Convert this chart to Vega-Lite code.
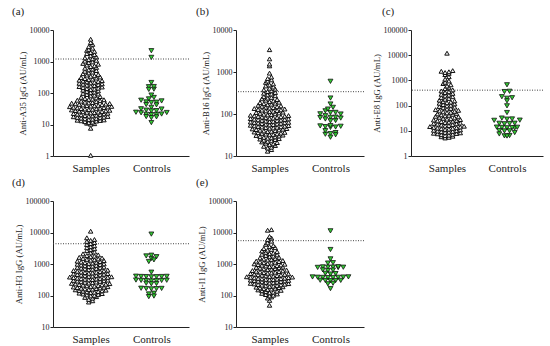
{
"$schema": "https://vega.github.io/schema/vega-lite/v6.json",
"background": "#ffffff",
"padding": {"left": 12, "top": 6, "right": 2, "bottom": 2},
"columns": 3,
"spacing": {"row": 45, "column": 47},
"bounds": "flush",
"config": {
  "view": {"stroke": null},
  "font": "Liberation Serif",
  "axis": {"domainColor": "#222", "tickColor": "#222", "labelColor": "#222", "titleColor": "#222", "grid": false, "labelFont": "Liberation Serif", "titleFont": "Liberation Serif", "titleFontWeight": "normal", "labelFontWeight": "normal", "domainWidth": 1, "tickWidth": 1},
  "axisY": {"labelFontSize": 8, "titleFontSize": 8.7, "tickSize": 3, "labelPadding": 1, "titlePadding": 2, "labelFont": "Liberation Serif"},
  "axisX": {"labelFontSize": 11, "ticks": false, "labelPadding": 6, "labelAngle": 0, "labelFont": "Liberation Serif"},
  "title": {"fontSize": 11, "fontWeight": "normal", "anchor": "start", "frame": "group", "font": "Liberation Serif", "color": "#222", "offset": 9}
},
"datasets": {
"aS": [{"v":1.05},{"v":7.6},{"v":10.2},{"v":10.6},{"v":11.0},{"v":11.4},{"v":11.9},{"v":12.3},{"v":12.8},{"v":13.1},{"v":13.4},{"v":13.7},{"v":14.0},{"v":14.4},{"v":14.8},{"v":15.2},{"v":15.6},{"v":16.0},{"v":16.4},{"v":16.8},{"v":17.2},{"v":17.6},{"v":18.0},{"v":18.4},{"v":18.8},{"v":19.2},{"v":19.7},{"v":20.3},{"v":20.8},{"v":21.3},{"v":21.8},{"v":22.3},{"v":22.8},{"v":23.3},{"v":23.8},{"v":24.3},{"v":24.8},{"v":25.3},{"v":25.9},{"v":26.5},{"v":27.1},{"v":27.7},{"v":28.3},{"v":29.0},{"v":29.7},{"v":30.4},{"v":31.0},{"v":31.6},{"v":32},{"v":32.8},{"v":33.6},{"v":34.4},{"v":35.2},{"v":36},{"v":36.8},{"v":37.6},{"v":38.4},{"v":39.2},{"v":39.8},{"v":40.5},{"v":41.5},{"v":42.5},{"v":43.5},{"v":44.5},{"v":45.5},{"v":46.5},{"v":47.5},{"v":48.5},{"v":49.5},{"v":51},{"v":53},{"v":55},{"v":57},{"v":59},{"v":61},{"v":62.5},{"v":64},{"v":67},{"v":70},{"v":73},{"v":77},{"v":81},{"v":85},{"v":89},{"v":93},{"v":97},{"v":102},{"v":107},{"v":112},{"v":117},{"v":123},{"v":128},{"v":133},{"v":138},{"v":143},{"v":149},{"v":155},{"v":160},{"v":166},{"v":172},{"v":178},{"v":184},{"v":190},{"v":196},{"v":203},{"v":210},{"v":218},{"v":226},{"v":233},{"v":240},{"v":247},{"v":255},{"v":265},{"v":276},{"v":287},{"v":298},{"v":310},{"v":322},{"v":338},{"v":354},{"v":370},{"v":388},{"v":410},{"v":435},{"v":460},{"v":488},{"v":515},{"v":545},{"v":575},{"v":610},{"v":650},{"v":690},{"v":730},{"v":770},{"v":820},{"v":870},{"v":920},{"v":970},{"v":1030},{"v":1090},{"v":1150},{"v":1220},{"v":1300},{"v":1400},{"v":1520},{"v":1650},{"v":1780},{"v":1920},{"v":2100},{"v":2250},{"v":2420},{"v":2650},{"v":2950},{"v":3500},{"v":4000},{"v":5100}],
"aC": [{"v":2200},{"v":1350},{"v":215},{"v":158},{"v":133},{"v":130},{"v":160},{"v":72},{"v":86},{"v":65},{"v":50},{"v":51},{"v":56},{"v":52},{"v":42},{"v":59},{"v":43},{"v":35},{"v":31},{"v":28.6},{"v":31.5},{"v":24},{"v":27},{"v":21},{"v":24.5},{"v":21.5},{"v":23.5},{"v":20.5},{"v":21},{"v":27.5},{"v":17.5},{"v":17.8},{"v":16.5},{"v":11.5}],
"bS": [{"v":13},{"v":14.2},{"v":15.5},{"v":16.2},{"v":17},{"v":17.8},{"v":18.6},{"v":19.5},{"v":20.2},{"v":20.9},{"v":21.6},{"v":22.3},{"v":23.0},{"v":23.8},{"v":24.6},{"v":25.3},{"v":25.9},{"v":26.5},{"v":27.1},{"v":27.8},{"v":28.5},{"v":29.2},{"v":30},{"v":30.8},{"v":31.5},{"v":32},{"v":32.6},{"v":33.2},{"v":33.8},{"v":34.5},{"v":35.2},{"v":35.9},{"v":36.6},{"v":37.3},{"v":38},{"v":38.7},{"v":39.5},{"v":40.2},{"v":41},{"v":41.8},{"v":42.6},{"v":43.4},{"v":44.2},{"v":45},{"v":45.8},{"v":46.6},{"v":47.4},{"v":48.2},{"v":49},{"v":49.7},{"v":50.4},{"v":51.3},{"v":52.2},{"v":53.1},{"v":54},{"v":55},{"v":56},{"v":57},{"v":58},{"v":59},{"v":60},{"v":61},{"v":62},{"v":62.8},{"v":63.5},{"v":64.6},{"v":65.7},{"v":66.8},{"v":68},{"v":69.2},{"v":70.4},{"v":71.6},{"v":72.8},{"v":74},{"v":75.2},{"v":76.4},{"v":77.6},{"v":78.7},{"v":80},{"v":81.5},{"v":83},{"v":84.5},{"v":86},{"v":87.5},{"v":89},{"v":90.5},{"v":92},{"v":93.5},{"v":95},{"v":96.5},{"v":98.5},{"v":101},{"v":103.5},{"v":106},{"v":108.5},{"v":111},{"v":113.5},{"v":116},{"v":118.5},{"v":121},{"v":123.5},{"v":125.5},{"v":128},{"v":131.5},{"v":135},{"v":138.5},{"v":142},{"v":145.5},{"v":149},{"v":152.5},{"v":156},{"v":161},{"v":166},{"v":171},{"v":176},{"v":181},{"v":186},{"v":191},{"v":197},{"v":205},{"v":213},{"v":221},{"v":230},{"v":239},{"v":248},{"v":258},{"v":272},{"v":286},{"v":300},{"v":312},{"v":325},{"v":342},{"v":358},{"v":375},{"v":392},{"v":410},{"v":440},{"v":465},{"v":492},{"v":520},{"v":565},{"v":610},{"v":650},{"v":700},{"v":760},{"v":940},{"v":1400},{"v":1550},{"v":2050},{"v":3400}],
"bC": [{"v":600},{"v":240},{"v":144},{"v":173},{"v":109},{"v":119},{"v":91},{"v":100},{"v":131},{"v":101},{"v":108},{"v":83},{"v":69},{"v":70},{"v":80},{"v":84},{"v":76},{"v":82},{"v":49},{"v":50},{"v":52},{"v":48},{"v":53},{"v":51},{"v":33},{"v":36},{"v":34},{"v":32},{"v":28},{"v":40}],
"cS": [{"v":5.2},{"v":5.5},{"v":5.8},{"v":6.1},{"v":6.4},{"v":6.7},{"v":7.0},{"v":7.3},{"v":7.6},{"v":7.8},{"v":8.0},{"v":8.3},{"v":8.6},{"v":8.9},{"v":9.2},{"v":9.5},{"v":9.8},{"v":10.1},{"v":10.5},{"v":10.9},{"v":11.3},{"v":11.7},{"v":12.1},{"v":12.5},{"v":12.8},{"v":13.2},{"v":13.7},{"v":14.2},{"v":14.7},{"v":15.2},{"v":15.6},{"v":16.2},{"v":16.9},{"v":17.6},{"v":18.3},{"v":19},{"v":19.7},{"v":20.4},{"v":21.3},{"v":22.2},{"v":23.1},{"v":24},{"v":24.8},{"v":25.7},{"v":26.8},{"v":27.9},{"v":29},{"v":30.1},{"v":31.2},{"v":32.5},{"v":34.2},{"v":35.9},{"v":37.6},{"v":39.3},{"v":41},{"v":43},{"v":45},{"v":47},{"v":49},{"v":51.5},{"v":54},{"v":56.5},{"v":59},{"v":61.5},{"v":65},{"v":69},{"v":73},{"v":77},{"v":82},{"v":87},{"v":92},{"v":97},{"v":103},{"v":110},{"v":117},{"v":124},{"v":130},{"v":138},{"v":146},{"v":154},{"v":165},{"v":178},{"v":192},{"v":210},{"v":225},{"v":242},{"v":262},{"v":282},{"v":305},{"v":330},{"v":355},{"v":382},{"v":420},{"v":470},{"v":530},{"v":600},{"v":670},{"v":750},{"v":840},{"v":950},{"v":1120},{"v":1400},{"v":1700},{"v":1900},{"v":2050},{"v":2200},{"v":2300},{"v":2450},{"v":12000}],
"cC": [{"v":670},{"v":360},{"v":370},{"v":195},{"v":205},{"v":225},{"v":155},{"v":98},{"v":53},{"v":29},{"v":29.5},{"v":26},{"v":26.5},{"v":32},{"v":19},{"v":19.5},{"v":20},{"v":19.8},{"v":13},{"v":13.2},{"v":13.4},{"v":13.6},{"v":13.8},{"v":14},{"v":10},{"v":10.2},{"v":9.9},{"v":6.3},{"v":6.5},{"v":8.5},{"v":6.2},{"v":7.5}],
"dS": [{"v":62},{"v":68},{"v":75},{"v":82},{"v":87},{"v":92},{"v":97},{"v":101},{"v":104.5},{"v":108},{"v":111.5},{"v":115},{"v":119},{"v":123},{"v":127},{"v":130.5},{"v":134},{"v":137.5},{"v":141},{"v":144.5},{"v":148},{"v":151.5},{"v":155},{"v":159},{"v":162.5},{"v":166},{"v":170},{"v":174},{"v":178},{"v":182},{"v":186},{"v":190},{"v":194},{"v":198},{"v":203},{"v":208},{"v":213},{"v":218},{"v":223},{"v":228},{"v":233},{"v":238},{"v":243},{"v":248},{"v":255},{"v":261},{"v":267},{"v":273},{"v":280},{"v":287},{"v":294},{"v":301},{"v":308},{"v":314},{"v":320},{"v":327},{"v":334},{"v":341},{"v":348},{"v":355},{"v":362},{"v":369},{"v":377},{"v":385},{"v":393},{"v":403},{"v":413},{"v":423},{"v":433},{"v":443},{"v":453},{"v":463},{"v":473},{"v":485},{"v":497},{"v":507},{"v":520},{"v":533},{"v":546},{"v":559},{"v":572},{"v":586},{"v":603},{"v":620},{"v":640},{"v":660},{"v":680},{"v":700},{"v":720},{"v":740},{"v":760},{"v":782},{"v":805},{"v":830},{"v":855},{"v":880},{"v":905},{"v":930},{"v":955},{"v":985},{"v":1010},{"v":1040},{"v":1070},{"v":1100},{"v":1130},{"v":1160},{"v":1195},{"v":1235},{"v":1280},{"v":1320},{"v":1360},{"v":1400},{"v":1450},{"v":1500},{"v":1550},{"v":1620},{"v":1700},{"v":1780},{"v":1860},{"v":1950},{"v":2100},{"v":2250},{"v":2400},{"v":2650},{"v":2850},{"v":3050},{"v":3300},{"v":3550},{"v":3800},{"v":4150},{"v":4450},{"v":4800},{"v":5200},{"v":5600},{"v":6000},{"v":6800},{"v":11000}],
"dC": [{"v":8900},{"v":1900},{"v":1800},{"v":1700},{"v":1500},{"v":1350},{"v":1200},{"v":550},{"v":390},{"v":395},{"v":400},{"v":405},{"v":410},{"v":398},{"v":402},{"v":290},{"v":295},{"v":298},{"v":300},{"v":302},{"v":305},{"v":310},{"v":235},{"v":240},{"v":245},{"v":162},{"v":165},{"v":168},{"v":170},{"v":166},{"v":118},{"v":112},{"v":96},{"v":92}],
"eS": [{"v":49},{"v":70},{"v":83},{"v":90},{"v":97},{"v":102},{"v":107},{"v":112},{"v":117},{"v":122},{"v":128},{"v":132.5},{"v":137},{"v":141.5},{"v":146},{"v":150.5},{"v":155},{"v":160},{"v":164.5},{"v":169},{"v":174},{"v":179},{"v":184},{"v":189},{"v":194},{"v":198},{"v":203},{"v":208},{"v":213},{"v":218},{"v":223},{"v":228},{"v":233},{"v":238},{"v":243},{"v":248},{"v":254},{"v":260},{"v":266},{"v":272},{"v":278},{"v":284},{"v":290},{"v":296},{"v":302},{"v":308},{"v":313},{"v":319},{"v":325},{"v":331},{"v":337},{"v":343},{"v":349},{"v":356},{"v":363},{"v":370},{"v":377},{"v":385},{"v":393},{"v":402},{"v":411},{"v":420},{"v":429},{"v":438},{"v":447},{"v":457},{"v":467},{"v":477},{"v":487},{"v":497},{"v":507},{"v":520},{"v":533},{"v":546},{"v":559},{"v":572},{"v":586},{"v":603},{"v":620},{"v":640},{"v":660},{"v":680},{"v":700},{"v":720},{"v":740},{"v":760},{"v":782},{"v":800},{"v":822},{"v":844},{"v":866},{"v":888},{"v":910},{"v":935},{"v":960},{"v":985},{"v":1010},{"v":1040},{"v":1070},{"v":1100},{"v":1130},{"v":1160},{"v":1195},{"v":1235},{"v":1290},{"v":1340},{"v":1390},{"v":1440},{"v":1500},{"v":1560},{"v":1620},{"v":1700},{"v":1780},{"v":1860},{"v":1950},{"v":2030},{"v":2130},{"v":2230},{"v":2340},{"v":2460},{"v":2600},{"v":2750},{"v":2900},{"v":3080},{"v":3300},{"v":3550},{"v":3850},{"v":4200},{"v":4700},{"v":5300},{"v":6000},{"v":6700},{"v":7500},{"v":11800},{"v":12300}],
"eC": [{"v":11300},{"v":2880},{"v":1450},{"v":1070},{"v":1100},{"v":770},{"v":780},{"v":790},{"v":800},{"v":810},{"v":820},{"v":795},{"v":620},{"v":640},{"v":650},{"v":480},{"v":495},{"v":505},{"v":370},{"v":372},{"v":375},{"v":378},{"v":380},{"v":385},{"v":388},{"v":390},{"v":295},{"v":298},{"v":300},{"v":302},{"v":305},{"v":235},{"v":245},{"v":166}]
},
"concat": [
{
 "width": 136, "height": 126,
 "title": {"text": "(a)", "dx": -41},
 "encoding": {"y": {"field": "v", "type": "quantitative", "scale": {"type": "log", "domain": [1, 10000], "nice": false}, "axis": {"values": [1, 10, 100, 1000, 10000], "format": "d", "title": "Anti-A35 IgG (AU/mL)"}}},
 "layer": [
  {"data": {"values": [{"v": 1200}]}, "mark": {"type": "rule", "color": "#444", "strokeWidth": 1, "strokeDash": [1, 1.5]}, "encoding": {}},
  {"data": {"name": "aS"},
   "transform": [
    {"calculate": "floor(log(datum.v) / LN10 * 31.4 / 3.3)", "as": "bk"},
    {"window": [{"op": "row_number", "as": "r"}, {"op": "count", "as": "n"}], "groupby": ["bk"], "sort": [{"field": "v"}], "frame": [null, null]},
    {"calculate": "(datum.r % 2 == 0 ? 1 : -1) * floor(datum.r / 2) + (datum.n % 2 == 0 ? -0.5 : 0)", "as": "off"}
   ],
   "mark": {"type": "point", "shape": "triangle-up", "filled": true, "fill": "#f2f2f2", "stroke": "#111", "strokeWidth": 1, "size": 20, "opacity": 1},
   "encoding": {"x": {"datum": "Samples", "type": "nominal", "scale": {"type": "point", "domain": ["Samples", "Controls"], "padding": 0.62}, "axis": {"title": null}}, "xOffset": {"field": "off", "type": "quantitative", "scale": {"domain": [-10, 10], "range": [-38, 38]}}}},
  {"data": {"name": "aC"},
   "transform": [
    {"calculate": "floor(log(datum.v) / LN10 * 31.4 / 4)", "as": "bk"},
    {"window": [{"op": "row_number", "as": "r"}, {"op": "count", "as": "n"}], "groupby": ["bk"], "sort": [{"field": "v"}], "frame": [null, null]},
    {"calculate": "1.35 * ((datum.r % 2 == 0 ? 1 : -1) * floor(datum.r / 2) + (datum.n % 2 == 0 ? -0.5 : 0))", "as": "off"}
   ],
   "mark": {"type": "point", "shape": "triangle-down", "filled": true, "fill": "#33cc33", "stroke": "#111", "strokeWidth": 0.8, "size": 24, "opacity": 1},
   "encoding": {"x": {"datum": "Controls", "type": "nominal", "scale": {"type": "point", "domain": ["Samples", "Controls"], "padding": 0.62}, "axis": {"title": null}}, "xOffset": {"field": "off", "type": "quantitative", "scale": {"domain": [-10, 10], "range": [-38, 38]}}}}
 ]
},
{
 "width": 128, "height": 126,
 "title": {"text": "(b)", "dx": -40},
 "encoding": {"y": {"field": "v", "type": "quantitative", "scale": {"type": "log", "domain": [10, 10000], "nice": false}, "axis": {"values": [10, 100, 1000, 10000], "format": "d", "title": "Anti-B16 IgG (AU/mL)"}}},
 "layer": [
  {"data": {"values": [{"v": 340}]}, "mark": {"type": "rule", "color": "#444", "strokeWidth": 1, "strokeDash": [1, 1.5]}, "encoding": {}},
  {"data": {"name": "bS"},
   "transform": [
    {"calculate": "floor(log(datum.v) / LN10 * 41.8 / 3.3)", "as": "bk"},
    {"window": [{"op": "row_number", "as": "r"}, {"op": "count", "as": "n"}], "groupby": ["bk"], "sort": [{"field": "v"}], "frame": [null, null]},
    {"calculate": "(datum.r % 2 == 0 ? 1 : -1) * floor(datum.r / 2) + (datum.n % 2 == 0 ? -0.5 : 0)", "as": "off"}
   ],
   "mark": {"type": "point", "shape": "triangle-up", "filled": true, "fill": "#f2f2f2", "stroke": "#111", "strokeWidth": 1, "size": 20, "opacity": 1},
   "encoding": {"x": {"datum": "Samples", "type": "nominal", "scale": {"type": "point", "domain": ["Samples", "Controls"], "padding": 0.55}, "axis": {"title": null}}, "xOffset": {"field": "off", "type": "quantitative", "scale": {"domain": [-10, 10], "range": [-38, 38]}}}},
  {"data": {"name": "bC"},
   "transform": [
    {"calculate": "floor(log(datum.v) / LN10 * 41.8 / 4)", "as": "bk"},
    {"window": [{"op": "row_number", "as": "r"}, {"op": "count", "as": "n"}], "groupby": ["bk"], "sort": [{"field": "v"}], "frame": [null, null]},
    {"calculate": "1.35 * ((datum.r % 2 == 0 ? 1 : -1) * floor(datum.r / 2) + (datum.n % 2 == 0 ? -0.5 : 0))", "as": "off"}
   ],
   "mark": {"type": "point", "shape": "triangle-down", "filled": true, "fill": "#33cc33", "stroke": "#111", "strokeWidth": 0.8, "size": 24, "opacity": 1},
   "encoding": {"x": {"datum": "Controls", "type": "nominal", "scale": {"type": "point", "domain": ["Samples", "Controls"], "padding": 0.55}, "axis": {"title": null}}, "xOffset": {"field": "off", "type": "quantitative", "scale": {"domain": [-10, 10], "range": [-38, 38]}}}}
 ]
},
{
 "width": 132, "height": 126,
 "title": {"text": "(c)", "dx": -29},
 "encoding": {"y": {"field": "v", "type": "quantitative", "scale": {"type": "log", "domain": [1, 100000], "nice": false}, "axis": {"values": [1, 10, 100, 1000, 10000, 100000], "format": "d", "title": "Anti-E8 IgG (AU/mL)"}}},
 "layer": [
  {"data": {"values": [{"v": 410}]}, "mark": {"type": "rule", "color": "#444", "strokeWidth": 1, "strokeDash": [1, 1.5]}, "encoding": {}},
  {"data": {"name": "cS"},
   "transform": [
    {"calculate": "floor(log(datum.v) / LN10 * 25.1 / 3.3)", "as": "bk"},
    {"window": [{"op": "row_number", "as": "r"}, {"op": "count", "as": "n"}], "groupby": ["bk"], "sort": [{"field": "v"}], "frame": [null, null]},
    {"calculate": "(datum.r % 2 == 0 ? 1 : -1) * floor(datum.r / 2) + (datum.n % 2 == 0 ? -0.5 : 0)", "as": "off"}
   ],
   "mark": {"type": "point", "shape": "triangle-up", "filled": true, "fill": "#f2f2f2", "stroke": "#111", "strokeWidth": 1, "size": 20, "opacity": 1},
   "encoding": {"x": {"datum": "Samples", "type": "nominal", "scale": {"type": "point", "domain": ["Samples", "Controls"], "padding": 0.6}, "axis": {"title": null}}, "xOffset": {"field": "off", "type": "quantitative", "scale": {"domain": [-10, 10], "range": [-38, 38]}}}},
  {"data": {"name": "cC"},
   "transform": [
    {"calculate": "floor(log(datum.v) / LN10 * 25.1 / 4)", "as": "bk"},
    {"window": [{"op": "row_number", "as": "r"}, {"op": "count", "as": "n"}], "groupby": ["bk"], "sort": [{"field": "v"}], "frame": [null, null]},
    {"calculate": "1.35 * ((datum.r % 2 == 0 ? 1 : -1) * floor(datum.r / 2) + (datum.n % 2 == 0 ? -0.5 : 0))", "as": "off"}
   ],
   "mark": {"type": "point", "shape": "triangle-down", "filled": true, "fill": "#33cc33", "stroke": "#111", "strokeWidth": 0.8, "size": 24, "opacity": 1},
   "encoding": {"x": {"datum": "Controls", "type": "nominal", "scale": {"type": "point", "domain": ["Samples", "Controls"], "padding": 0.6}, "axis": {"title": null}}, "xOffset": {"field": "off", "type": "quantitative", "scale": {"domain": [-10, 10], "range": [-38, 38]}}}}
 ]
},
{
 "width": 136, "height": 126,
 "title": {"text": "(d)", "dx": -41},
 "encoding": {"y": {"field": "v", "type": "quantitative", "scale": {"type": "log", "domain": [10, 100000], "nice": false}, "axis": {"values": [10, 100, 1000, 10000, 100000], "format": "d", "title": "Anti-H3 IgG (AU/mL)"}}},
 "layer": [
  {"data": {"values": [{"v": 4400}]}, "mark": {"type": "rule", "color": "#444", "strokeWidth": 1, "strokeDash": [1, 1.5]}, "encoding": {}},
  {"data": {"name": "dS"},
   "transform": [
    {"calculate": "floor(log(datum.v) / LN10 * 31.75 / 3.3)", "as": "bk"},
    {"window": [{"op": "row_number", "as": "r"}, {"op": "count", "as": "n"}], "groupby": ["bk"], "sort": [{"field": "v"}], "frame": [null, null]},
    {"calculate": "(datum.r % 2 == 0 ? 1 : -1) * floor(datum.r / 2) + (datum.n % 2 == 0 ? -0.5 : 0)", "as": "off"}
   ],
   "mark": {"type": "point", "shape": "triangle-up", "filled": true, "fill": "#f2f2f2", "stroke": "#111", "strokeWidth": 1, "size": 20, "opacity": 1},
   "encoding": {"x": {"datum": "Samples", "type": "nominal", "scale": {"type": "point", "domain": ["Samples", "Controls"], "padding": 0.62}, "axis": {"title": null}}, "xOffset": {"field": "off", "type": "quantitative", "scale": {"domain": [-10, 10], "range": [-38, 38]}}}},
  {"data": {"name": "dC"},
   "transform": [
    {"calculate": "floor(log(datum.v) / LN10 * 31.75 / 4)", "as": "bk"},
    {"window": [{"op": "row_number", "as": "r"}, {"op": "count", "as": "n"}], "groupby": ["bk"], "sort": [{"field": "v"}], "frame": [null, null]},
    {"calculate": "1.35 * ((datum.r % 2 == 0 ? 1 : -1) * floor(datum.r / 2) + (datum.n % 2 == 0 ? -0.5 : 0))", "as": "off"}
   ],
   "mark": {"type": "point", "shape": "triangle-down", "filled": true, "fill": "#33cc33", "stroke": "#111", "strokeWidth": 0.8, "size": 24, "opacity": 1},
   "encoding": {"x": {"datum": "Controls", "type": "nominal", "scale": {"type": "point", "domain": ["Samples", "Controls"], "padding": 0.62}, "axis": {"title": null}}, "xOffset": {"field": "off", "type": "quantitative", "scale": {"domain": [-10, 10], "range": [-38, 38]}}}}
 ]
},
{
 "width": 128, "height": 126,
 "title": {"text": "(e)", "dx": -40},
 "encoding": {"y": {"field": "v", "type": "quantitative", "scale": {"type": "log", "domain": [10, 100000], "nice": false}, "axis": {"values": [10, 100, 1000, 10000, 100000], "format": "d", "title": "Anti-I1 IgG (AU/mL)"}}},
 "layer": [
  {"data": {"values": [{"v": 5500}]}, "mark": {"type": "rule", "color": "#444", "strokeWidth": 1, "strokeDash": [1, 1.5]}, "encoding": {}},
  {"data": {"name": "eS"},
   "transform": [
    {"calculate": "floor(log(datum.v) / LN10 * 31.75 / 3.3)", "as": "bk"},
    {"window": [{"op": "row_number", "as": "r"}, {"op": "count", "as": "n"}], "groupby": ["bk"], "sort": [{"field": "v"}], "frame": [null, null]},
    {"calculate": "(datum.r % 2 == 0 ? 1 : -1) * floor(datum.r / 2) + (datum.n % 2 == 0 ? -0.5 : 0)", "as": "off"}
   ],
   "mark": {"type": "point", "shape": "triangle-up", "filled": true, "fill": "#f2f2f2", "stroke": "#111", "strokeWidth": 1, "size": 20, "opacity": 1},
   "encoding": {"x": {"datum": "Samples", "type": "nominal", "scale": {"type": "point", "domain": ["Samples", "Controls"], "padding": 0.55}, "axis": {"title": null}}, "xOffset": {"field": "off", "type": "quantitative", "scale": {"domain": [-10, 10], "range": [-38, 38]}}}},
  {"data": {"name": "eC"},
   "transform": [
    {"calculate": "floor(log(datum.v) / LN10 * 31.75 / 4)", "as": "bk"},
    {"window": [{"op": "row_number", "as": "r"}, {"op": "count", "as": "n"}], "groupby": ["bk"], "sort": [{"field": "v"}], "frame": [null, null]},
    {"calculate": "1.35 * ((datum.r % 2 == 0 ? 1 : -1) * floor(datum.r / 2) + (datum.n % 2 == 0 ? -0.5 : 0))", "as": "off"}
   ],
   "mark": {"type": "point", "shape": "triangle-down", "filled": true, "fill": "#33cc33", "stroke": "#111", "strokeWidth": 0.8, "size": 24, "opacity": 1},
   "encoding": {"x": {"datum": "Controls", "type": "nominal", "scale": {"type": "point", "domain": ["Samples", "Controls"], "padding": 0.55}, "axis": {"title": null}}, "xOffset": {"field": "off", "type": "quantitative", "scale": {"domain": [-10, 10], "range": [-38, 38]}}}}
 ]
}
]
}
